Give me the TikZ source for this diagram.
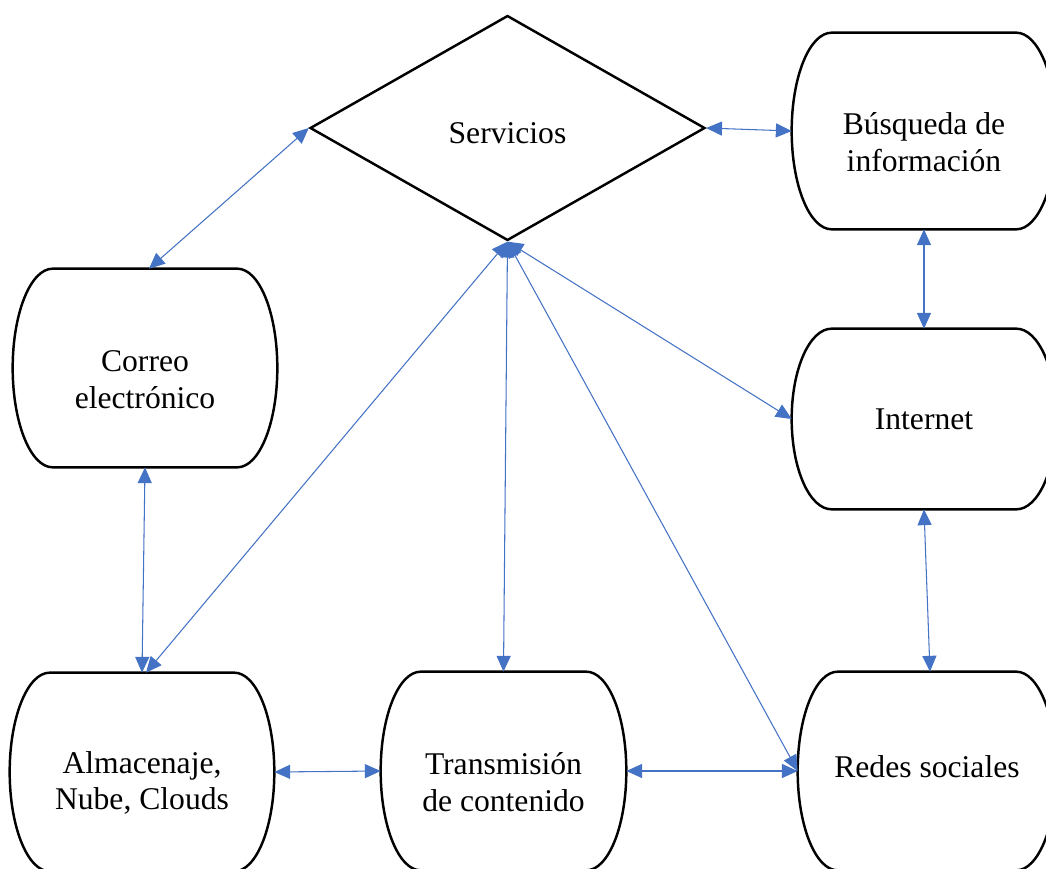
\documentclass[tikz,border=0pt]{standalone}
\usepackage{fontspec}
\setmainfont{Liberation Serif}
\usetikzlibrary{shapes.geometric,arrows.meta,calc}
\definecolor{linkblue}{HTML}{4472C4}
% invisible struts that nudge labels inside their shapes
\newcommand\firstlinepad{\rule{0pt}{25pt}}
\newcommand\lowpad{\rule{0pt}{18pt}}
\newcommand\highpad{\rule[-5.6pt]{0pt}{5.6pt}}
\begin{document}
\begin{tikzpicture}[x=0.02cm,y=-0.02cm,
  pod/.style={rectangle, inner sep=0pt, align=center,
              font=\fontsize{18}{21}\selectfont},
  hub/.style={diamond, draw=black, line width=1.4pt, inner sep=0pt,
              minimum width=7.9cm, minimum height=4.5cm,
              font=\fontsize{18}{21}\selectfont},
  outline/.style={draw=black, line width=1.4pt},
  link/.style={draw=linkblue, line width=0.6pt,
               {Triangle[length=9pt,width=8pt]}-{Triangle[length=9pt,width=8pt]}},
]
\useasboundingbox (0,0) rectangle (1046,869);
\clip (0,0) rectangle (1046,869);

% central decision shape
\node[hub] (serv) at (507.5,128) {\lowpad Servicios};

% rounded boxes
\node[pod, minimum width=5.28cm, minimum height=3.96cm] (correo) at (145,368)
  {\firstlinepad Correo\\electrónico};
\node[pod, minimum width=5.28cm, minimum height=3.92cm] (busq) at (924,131)
  {\firstlinepad Búsqueda de\\información};
\node[pod, minimum width=5.28cm, minimum height=3.60cm] (inet) at (924,419)
  {Internet};
\node[pod, minimum width=5.28cm, minimum height=3.96cm] (alm) at (142,772)
  {\firstlinepad Almacenaje,\\Nube, Clouds};
\node[pod, minimum width=4.90cm, minimum height=3.96cm] (trans) at (503.5,771)
  {\firstlinepad Transmisión\\de contenido};
\node[pod, minimum width=5.16cm, minimum height=3.96cm] (redes) at (927,771)
  {Redes sociales\highpad};

% outlines: straight top and bottom, elliptical bulging sides
\foreach \b in {correo,busq,inet,alm,trans,redes}{
  \draw[outline] let \p1=(\b.north east), \p2=(\b.south west),
        \n1={(\y1-\y2)/2} in
    ({\x2+0.8cm},\y1) -- ({\x1-0.8cm},\y1)
    arc[start angle=90,end angle=-90,x radius=0.8cm,y radius=\n1]
    -- ({\x2+0.8cm},\y2)
    arc[start angle=270,end angle=90,x radius=0.8cm,y radius=\n1]
    -- cycle;
}

% connectors
\draw[link] (serv.west) -- ([xshift=0.08cm]correo.north);
\draw[link] (serv.east) -- (busq.west);
\draw[link] (busq.south) -- (inet.north);
\draw[link] (inet.south) -- ([xshift=0.06cm]redes.north);
\draw[link] (serv.south) -- (inet.west);
\draw[link] (serv.south) -- (redes.west);
\draw[link] (serv.south) -- (trans.north);
\draw[link] (serv.south) -- ([xshift=0.08cm]alm.north);
\draw[link] (correo.south) -- (alm.north);
\draw[link] (alm.east) -- (trans.west);
\draw[link] (trans.east) -- (redes.west);
\end{tikzpicture}
\end{document}
